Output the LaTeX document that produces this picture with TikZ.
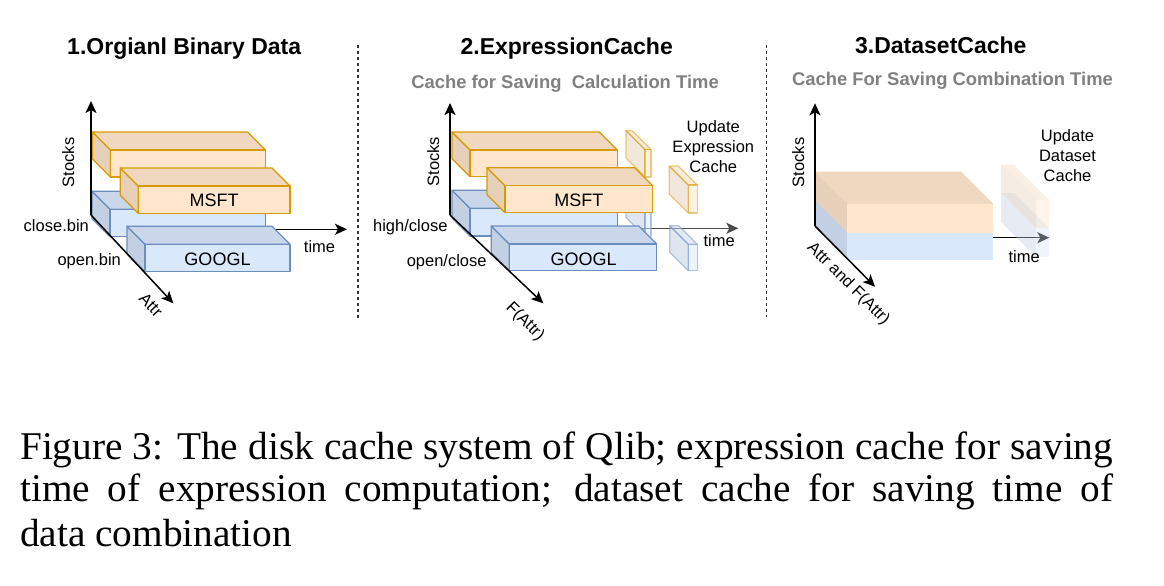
\documentclass[tikz,border=0pt]{standalone}
\usepackage{fontspec}
\setmainfont{Liberation Sans}
\newfontfamily\capfont{Liberation Serif}
\usepackage{tikz}
\usetikzlibrary{arrows.meta}
\definecolor{qcorfront}{RGB}{255,230,204}
\definecolor{qcortop}{RGB}{240,216,192}
\definecolor{qcorside}{RGB}{231,208,186}
\definecolor{qcorline}{RGB}{215,155,0}
\definecolor{qcblfront}{RGB}{218,232,252}
\definecolor{qcbltop}{RGB}{202,215,235}
\definecolor{qcblside}{RGB}{195,207,227}
\definecolor{qcblline}{RGB}{108,142,191}
\definecolor{qcgray}{RGB}{128,128,128}
\tikzset{
  qcfront/.style={},
  qctop/.style={},
  qcside/.style={},
  qcor/.style={
    qcfront/.style={fill=qcorfront, draw=qcorline},
    qctop/.style={fill=qcortop, draw=qcorline},
    qcside/.style={fill=qcorside, draw=qcorline}
  },
  qcbl/.style={
    qcfront/.style={fill=qcblfront, draw=qcblline},
    qctop/.style={fill=qcbltop, draw=qcblline},
    qcside/.style={fill=qcblside, draw=qcblline}
  },
  qcorsoft/.style={
    qcfront/.style={fill=qcorfront},
    qctop/.style={fill=qcortop},
    qcside/.style={fill=qcorside}
  },
  qcblsoft/.style={
    qcfront/.style={fill=qcblfront},
    qctop/.style={fill=qcbltop},
    qcside/.style={fill=qcblside}
  },
  qcslice/.style={opacity=0.5},
  qcaxis/.style={-{Stealth[length=12pt,width=11pt,inset=3pt]}, line width=1.5pt, draw=black},
  qcsep/.style={line width=1.2pt, dash pattern=on 3pt off 3pt, draw=black!80},
  qctitle/.style={font=\fontsize{23}{27}\selectfont\bfseries, anchor=base, inner sep=0pt},
  qcsub/.style={font=\fontsize{18.4}{22}\selectfont\bfseries, text=qcgray, anchor=base, inner sep=0pt},
  qcname/.style={font=\fontsize{18}{21}\selectfont, anchor=base, inner sep=0pt},
  qclabel/.style={font=\fontsize{16.5}{20}\selectfont, inner sep=0pt},
  qcnote/.style={qclabel, align=center},
  qccap/.style={font=\capfont\fontsize{39.3}{44}\selectfont, anchor=base west, inner sep=0pt}
}
% front top-left x, y, width, height, depth
\newcommand{\qccube}[6][]{%
  \begin{scope}[shift={(#2,#3)}, line width=1.2pt, line join=round, #1]
    \path[qcside] (0,0) -- (-#6,-#6) -- (-#6,{#5-#6}) -- (0,#5) -- cycle;
    \path[qctop] (0,0) -- (-#6,-#6) -- ({#4-#6},-#6) -- (#4,0) -- cycle;
    \path[qcfront] (0,0) rectangle (#4,#5);
  \end{scope}}

\begin{document}
\begin{tikzpicture}[x=1pt, y=-1pt]
\path[fill=white, use as bounding box] (0,0) rectangle (1164,586);

% 1.Orgianl Binary Data
\node[qctitle] (title1) at (184.2,55) {1.Orgianl Binary Data};
\coordinate (o1) at (91,215);
\coordinate (stk1) at (91,101);
\coordinate (attr1) at (173.3,303.3);
\coordinate (ts1) at (112,229.3);
\coordinate (te1) at (347,229.3);
\draw[qcaxis] (ts1) -- (te1);
\qccube[qcor]{110.5}{150}{155}{27}{18}
\qccube[qcbl]{110}{209.3}{155.5}{27.4}{18}
\qccube[qcor]{138.3}{186}{151.7}{27.3}{18}
\qccube[qcbl]{145}{244.3}{145}{27.4}{18}
\node[qcname] (msft1) at (214.2,206.7) {MSFT};
\node[qcname] (googl1) at (217.5,265.7) {GOOGL};
\draw[qcaxis] (o1) -- (stk1);
\draw[qcaxis] (o1) -- (attr1);
\node[qclabel, rotate=90] (stocks1) at (68.3,162.5) {Stocks};
\node[qclabel, anchor=base] (close1) at (56.3,231.7) {close.bin};
\node[qclabel, anchor=base] (open1) at (89.2,265) {open.bin};
\node[qclabel, anchor=base] (time1) at (319.5,252.3) {time};
\node[qclabel, rotate=-47] (attrl1) at (151,305) {Attr};

\draw[qcsep] (358,45) -- (358,318);

% 2.ExpressionCache
\node[qctitle] (title2) at (566.7,55) {2.ExpressionCache};
\node[qcsub] (sub2) at (565,88.3) {Cache for Saving~ Calculation Time};
\coordinate (o2) at (450,215);
\coordinate (stk2) at (450,103);
\coordinate (attr2) at (543.3,303.3);
\coordinate (ts2) at (472,228.3);
\coordinate (te2) at (738.3,228.3);
\draw[qcaxis, draw=black!70] (ts2) -- (te2);
\qccube[qcor]{470}{150}{147.3}{26.7}{18}
\qccube[qcor, qcslice]{645}{149.5}{6}{27.5}{19}
\qccube[qcbl]{470}{208.3}{147.3}{27.7}{18}
\qccube[qcbl, qcslice]{645}{208.5}{6}{28}{19}
\qccube[qcor]{505}{185.7}{147.7}{27}{18}
\qccube[qcbl]{509.3}{244}{147.4}{26.7}{18}
\qccube[qcor, qcslice]{688.3}{185}{9}{28}{19}
\qccube[qcbl, qcslice]{688.3}{244.3}{9}{26.5}{18.5}
\node[qcname] (msft2) at (578.8,206.7) {MSFT};
\node[qcname] (googl2) at (583.5,265.7) {GOOGL};
\draw[qcaxis] (o2) -- (stk2);
\draw[qcaxis] (o2) -- (attr2);
\node[qclabel, rotate=90] (stocks2) at (433.3,161.7) {Stocks};
\node[qclabel, anchor=base] (high2) at (410.3,231.7) {high/close};
\node[qclabel, anchor=base] (open2) at (446.7,266.7) {open/close};
\node[qclabel, anchor=base] (time2) at (719.2,246.7) {time};
\node[qclabel, rotate=-45] (attrl2) at (525,321.7) {F(Attr)};
\node[qcnote] (upd2) at (713.3,147) {Update\\Expression\\Cache};

\draw[qcsep] (766.7,45) -- (766.7,317);

% 3.DatasetCache
\node[qctitle] (title3) at (940.8,54) {3.DatasetCache};
\node[qcsub] (sub3) at (952.5,85) {Cache For Saving Combination Time};
\coordinate (o3) at (815,226);
\coordinate (stk3) at (815,103.3);
\coordinate (attr3) at (875,286.7);
\coordinate (ts3) at (850,237.7);
\coordinate (te3) at (1049.3,237.7);
\draw[qcaxis] (ts3) -- (te3);
\qccube[qcblsoft]{847.3}{232.7}{146}{27.3}{32.3}
\qccube[qcorsoft]{847.3}{204}{146}{28.7}{32.3}
\qccube[qcblsoft, opacity=0.4]{1036}{228}{13}{29}{35}
\qccube[qcorsoft, opacity=0.4]{1036}{200}{13}{28}{35}
\draw[qcaxis] (o3) -- (stk3);
\draw[qcaxis] (o3) -- (attr3);
\node[qclabel, rotate=90] (stocks3) at (798.3,162.5) {Stocks};
\node[qclabel, anchor=base] (time3) at (1024.2,262.7) {time};
\node[qclabel, rotate=-45] (attrl3) at (848.3,284) {Attr and F(Attr)};
\node[qcnote] (upd3) at (1067.5,155.3) {Update\\Dataset\\Cache};

% caption
\node[qccap] (cap1) at (20,459.3) {\makebox[1093pt][s]{Figure 3: The disk cache system of Qlib; expression cache for saving}};
\node[qccap] (cap2) at (20,501.7) {\makebox[1093pt][s]{time of expression computation; dataset cache for saving time of}};
\node[qccap] (cap3) at (20,546.7) {data combination};
\end{tikzpicture}
\end{document}
